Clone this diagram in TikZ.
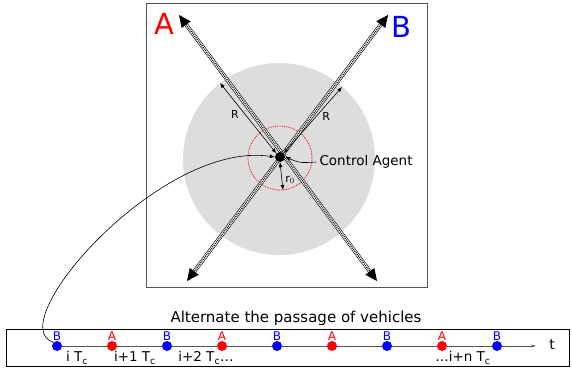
\documentclass[tikz,border=0pt]{standalone}
\usepackage{fontspec}
\setmainfont{DejaVu Sans}
\usepackage{xcolor}
\definecolor{zonegray}{HTML}{DDDDDD}
\definecolor{lanegray}{HTML}{555555}
\usetikzlibrary{arrows.meta}
\newcommand{\Tc}{T\textsubscript{c}}

\begin{document}
\begin{tikzpicture}[x=1pt, y=-1pt, >={Latex[length=5pt,width=4pt]}]
	\useasboundingbox (0,0) rectangle (572,370);
	\draw[lanegray, line width=0.8pt] (146,3) rectangle (427,287);
	\fill[zonegray] (279,159) circle (96);
	\draw[red, densely dotted, line width=0.8pt] (280,158) circle (32);
	
	% the two roads
	\foreach \s/\e in {{(179,15)}/{(377,281)}, {(388,15)}/{(187,281)}} {
		\draw[line width=0.6pt, double=white, double distance=2.6pt,
			{Triangle[length=12pt,width=11pt]}-{Triangle[length=12pt,width=11pt]}] \s -- \e;
		\draw[line width=1.2pt, dash pattern=on 1pt off 1pt, shorten <=10pt, shorten >=10pt] \s -- \e;
	}
	\node[red, font=\fontsize{29}{29}\selectfont] (lblA) at (164,24) {A};
	\node[blue, font=\fontsize{29}{29}\selectfont] (lblB) at (401,27) {B};
	
	\node[circle, fill, inner sep=0pt, minimum size=10pt] (agent) at (280,157) {};
	\coordinate (rA) at (220,83);
	\coordinate (rB) at (342,87);
	\coordinate (rO) at (283,190);
	\draw[<->, line width=0.6pt] (rA) -- (agent.north west) node[pos=0.45, left=3pt, font=\fontsize{11}{11}\selectfont] (lblR1) {R};
	\draw[<->, line width=0.6pt] (rB) -- (agent.north east) node[pos=0.45, right=3pt, font=\fontsize{11}{11}\selectfont] (lblR2) {R};
	\draw[<->, line width=0.6pt] (agent.south) -- (rO);
	\node[font=\fontsize{11}{11}\selectfont] (lblr) at (290,180) {r$_0$};
	\node[anchor=west, font=\fontsize{13.5}{13.5}\selectfont] (ctrl) at (316,162) {Control Agent};
	\draw[->, line width=0.6pt] (ctrl.west) .. controls (300,163) .. (agent.east);
	
	% time line
	\draw[line width=0.8pt] (6,329) rectangle (569,366);
	\node[font=\fontsize{15}{15}\selectfont] (title) at (296,318) {Alternate the passage of vehicles};
	\coordinate (tend) at (536,346);
	\draw[lanegray, line width=0.8pt, -{Stealth[length=5pt,width=3pt]}] (57,346) -- (tend);
	\node[font=\fontsize{14}{14}\selectfont] (lblt) at (552,345) {t};
	\foreach \i/\v/\c in {0/B/blue, 1/A/red, 2/B/blue, 3/A/red, 4/B/blue, 5/A/red, 6/B/blue, 7/A/red, 8/B/blue} {
		\node[circle, fill=\c, inner sep=0pt, minimum size=10pt] (d\i) at (57+55*\i,346) {};
		\node[\c, font=\fontsize{12}{12}\selectfont] (v\i) at (57+55*\i,336) {\v};
	}
	\node[font=\fontsize{13.5}{13.5}\selectfont] (k0) at (77,358) {i \Tc};
	\node[font=\fontsize{13.5}{13.5}\selectfont] (k1) at (135,358) {i+1 \Tc};
	\node[font=\fontsize{13.5}{13.5}\selectfont] (k2) at (206,358) {i+2 \Tc\dots};
	\node[font=\fontsize{13.5}{13.5}\selectfont] (k3) at (463,358) {\dots i+n \Tc};
	
	\draw[->, line width=0.6pt] (d0.north west) .. controls (0,325) and (160,140) .. (agent.west);
\end{tikzpicture}
\end{document}
